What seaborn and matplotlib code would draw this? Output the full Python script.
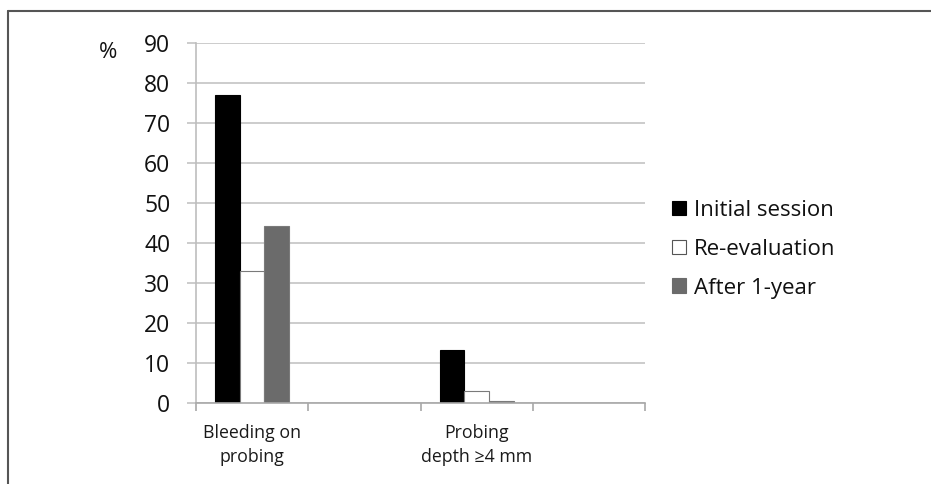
import pandas as pd
import seaborn as sns
import matplotlib.pyplot as plt
from matplotlib.lines import Line2D

# values (percent)
categories = ["Bleeding on\nprobing", "gap1", "Probing\ndepth \u22654 mm", "gap2"]
groups = ["Bleeding on\nprobing", "Probing\ndepth \u22654 mm"]
series = ["Initial session", "Re-evaluation", "After 1-year"]
initial = [77, 13.3]
reeval = [33, 3.0]
after1 = [44.2, 0.6]
yticks = [0, 10, 20, 30, 40, 50, 60, 70, 80, 90]

rows = []
for i, g in enumerate(groups):
    rows.append((g, series[0], initial[i]))
    rows.append((g, series[1], reeval[i]))
    rows.append((g, series[2], after1[i]))
df = pd.DataFrame(rows, columns=["group", "session", "pct"])

sns.set_style("white")
plt.rcParams['font.family'] = ['Open Sans', 'DejaVu Sans']

fig = plt.figure(figsize=(9.31, 4.84), dpi=100)
ax = fig.add_axes([196 / 931, (484 - 403) / 484, (645 - 196) / 931, 360 / 484])

palette = {"Initial session": "#000000", "Re-evaluation": "#ffffff", "After 1-year": "#6b6b6b"}
sns.barplot(data=df, x="group", y="pct", hue="session", order=categories,
            hue_order=series, palette=palette, width=0.66, ax=ax,
            edgecolor="#7a7a7a", linewidth=0.8, legend=False)
for p in ax.patches:
    if p.get_facecolor()[0] < 0.1:
        p.set_edgecolor("#000000")

ax.set_ylim(0, 90)
ax.set_xlim(-0.5, 3.5)
ax.set_yticks(yticks)
ax.set_yticklabels([str(t) for t in yticks], fontsize=16.5, color="#111111")
ax.yaxis.grid(True, color="#c4c4c4", linewidth=1.2)
ax.set_axisbelow(True)
ax.tick_params(axis="y", length=6.5, color="#c4c4c4", width=1.2, pad=12, left=True)

ax.set_xticks([0, 2])
ax.set_xticklabels([categories[0], categories[2]], fontsize=12.8, color="#1a1a1a",
                   linespacing=1.42)
ax.set_xticks([-0.5, 0.5, 1.5, 2.5, 3.5], minor=True)
ax.tick_params(axis="x", which="major", length=0, pad=15)
ax.tick_params(axis="x", which="minor", length=6, color="#a8a8a8", width=1.2, bottom=True)
ax.set_xlabel("")
ax.set_ylabel("")

for s in ["top", "right"]:
    ax.spines[s].set_visible(False)
ax.spines["left"].set_color("#bdbdbd")
ax.spines["left"].set_linewidth(1.2)
ax.spines["bottom"].set_color("#a8a8a8")
ax.spines["bottom"].set_linewidth(1.2)

fig.text(108 / 931, 1 - 52 / 484, "%", fontsize=16, ha="center", va="center", color="#111111")

handles = [plt.Rectangle((0, 0), 1, 1, facecolor=palette[s], edgecolor="#555555" if s == "Re-evaluation" else palette[s], linewidth=0.8)
           for s in series]
leg = fig.legend(handles, series, loc="upper left", bbox_to_anchor=(652 / 931, 1 - 180 / 484),
                 frameon=False, fontsize=16, handlelength=0.63, handleheight=0.63,
                 handletextpad=0.35, labelspacing=0.8)
for t in leg.get_texts():
    t.set_color("#111111")

# outer frame of the figure panel
fig.add_artist(Line2D([8 / 931, 1], [1 - 11 / 484, 1 - 11 / 484], color="#555555", linewidth=1.5))
fig.add_artist(Line2D([8 / 931, 8 / 931], [0, 1 - 11 / 484], color="#555555", linewidth=1.5))

fig.savefig("out.png", dpi=100)
